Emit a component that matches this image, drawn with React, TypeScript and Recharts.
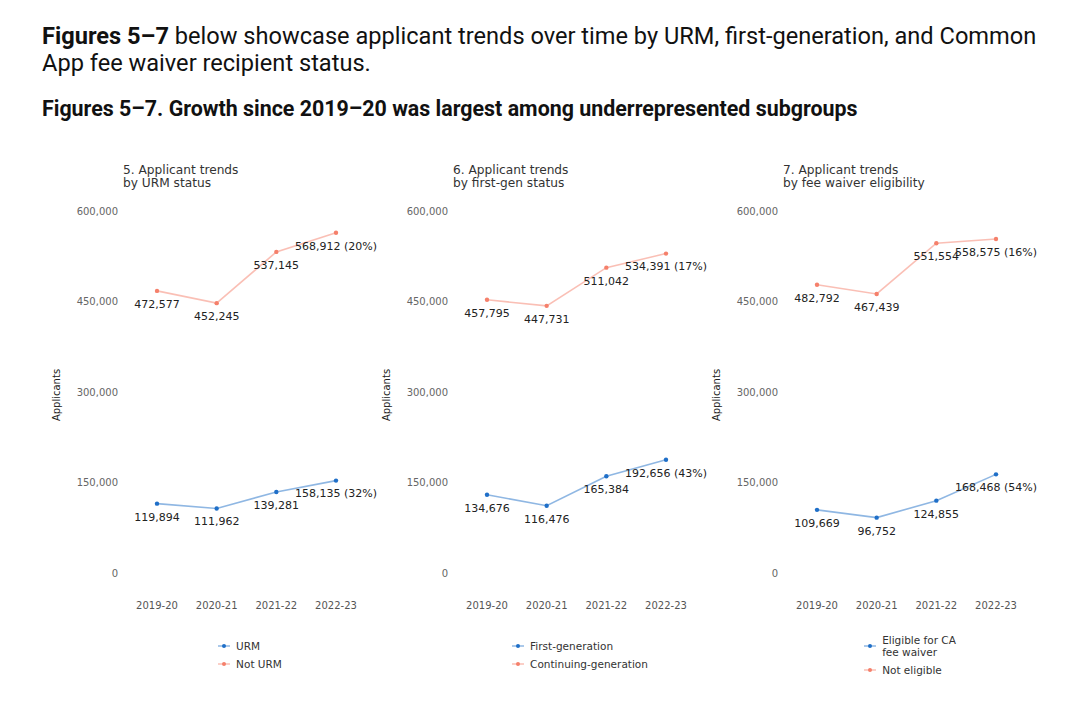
import { LineChart, Line, XAxis, YAxis } from "recharts";

const years = ["2019-20", "2020-21", "2021-22", "2022-23"];
const yTicks = [0, 150000, 300000, 450000, 600000];

const urm = [119894, 111962, 139281, 158135];
const notUrm = [472577, 452245, 537145, 568912];
const firstGen = [134676, 116476, 165384, 192656];
const continuingGen = [457795, 447731, 511042, 534391];
const feeWaiver = [109669, 96752, 124855, 168468];
const notEligible = [482792, 467439, 551554, 558575];

const titles = [
  ["5. Applicant trends", "by URM status"],
  ["6. Applicant trends", "by first-gen status"],
  ["7. Applicant trends", "by fee waiver eligibility"]
];
const lowNames = [["URM"], ["First-generation"], ["Eligible for CA", "fee waiver"]];
const highNames = [["Not URM"], ["Continuing-generation"], ["Not eligible"]];
const lowGrowth = ["32%", "43%", "54%"];
const highGrowth = ["20%", "17%", "16%"];

const BLUE = "#1f6fc8";
const SALMON = "#f5806b";
const CHART_FONT = "'DejaVu Sans', sans-serif";

const panels = [
  { low: urm, high: notUrm },
  { low: firstGen, high: continuingGen },
  { low: feeWaiver, high: notEligible }
];

const fmt = (v: number) => v.toLocaleString("en-US");

function makeLabel(growth: string) {
  return (props: any) => {
    const { x, y, value, index } = props;
    const text = index === years.length - 1 ? `${fmt(value)} (${growth})` : fmt(value);
    return (
      <text
        x={x}
        y={y + 13}
        dy="0.355em"
        textAnchor="middle"
        fontSize={11}
        fill="#222"
        fontFamily={CHART_FONT}
      >
        {text}
      </text>
    );
  };
}

const YTick = (props: any) => (
  <text
    x={props.x - 3}
    y={props.y - 3}
    dy="0.355em"
    textAnchor="end"
    fontSize={10}
    fill="#666"
    fontFamily={CHART_FONT}
  >
    {fmt(props.payload.value)}
  </text>
);

const XTick = (props: any) => (
  <text
    x={props.x}
    y={props.y + 29}
    dy="0.355em"
    textAnchor="middle"
    fontSize={10}
    fill="#555"
    fontFamily={CHART_FONT}
  >
    {props.payload.value}
  </text>
);

const AxisLabel = (props: any) => {
  const vb = props.viewBox;
  const x = vb.x + 16;
  const y = vb.y + vb.height / 2;
  return (
    <text
      x={x}
      y={y}
      dy="0.355em"
      textAnchor="middle"
      transform={`rotate(-90, ${x}, ${y})`}
      fontSize={10}
      fill="#222"
      fontFamily={CHART_FONT}
    >
      Applicants
    </text>
  );
};

function LegendRow({ color, lines }: { color: string; lines: string[] }) {
  return (
    <div style={{ display: "flex", alignItems: "center" }}>
      <svg width={18} height={8}>
        <line x1={0} y1={4} x2={12} y2={4} stroke={color} strokeOpacity={0.5} strokeWidth={1.5} />
        <circle cx={6} cy={4} r={2} fill={color} />
      </svg>
      <div style={{ lineHeight: "12px" }}>
        {lines.map((l) => (
          <div key={l}>{l}</div>
        ))}
      </div>
    </div>
  );
}

function Panel({ k }: { k: number }) {
  const p = panels[k];
  const data = years.map((year, i) => ({ year, low: p.low[i], high: p.high[i] }));
  const left = 40 + 330 * k;
  return (
    <>
      <div
        style={{
          position: "absolute",
          left: left + 83,
          top: 164,
          fontFamily: CHART_FONT,
          fontSize: 12.2,
          lineHeight: "13px",
          color: "#333"
        }}
      >
        <div>{titles[k][0]}</div>
        <div>{titles[k][1]}</div>
      </div>
      <div style={{ position: "absolute", left, top: 150 }}>
        <LineChart width={340} height={470} data={data} margin={{ top: 64, right: 10, bottom: 4, left: 0 }}>
          <XAxis
            dataKey="year"
            axisLine={false}
            tickLine={false}
            tickSize={0}
            tickMargin={0}
            height={40}
            padding={{ left: 36, right: 34 }}
            tick={<XTick />}
            interval={0}
          />
          <YAxis
            width={81}
            domain={[0, 600000]}
            ticks={yTicks}
            axisLine={false}
            tickLine={false}
            tickSize={0}
            tickMargin={0}
            tick={<YTick />}
            label={<AxisLabel />}
          />
          <Line
            dataKey="high"
            stroke={SALMON}
            strokeOpacity={0.5}
            strokeWidth={1.6}
            dot={{ r: 2.2, fill: SALMON, stroke: "none", fillOpacity: 1 }}
            label={makeLabel(highGrowth[k])}
            isAnimationActive={false}
          />
          <Line
            dataKey="low"
            stroke={BLUE}
            strokeOpacity={0.5}
            strokeWidth={1.6}
            dot={{ r: 2.2, fill: BLUE, stroke: "none", fillOpacity: 1 }}
            label={makeLabel(lowGrowth[k])}
            isAnimationActive={false}
          />
        </LineChart>
      </div>
      <div
        style={{
          position: "absolute",
          left: left + 60,
          width: 300,
          top: 625,
          height: 60,
          display: "flex",
          alignItems: "center",
          justifyContent: "center",
          fontFamily: CHART_FONT,
          fontSize: 10.5,
          color: "#333"
        }}
      >
        <div style={{ display: "flex", flexDirection: "column", gap: 6 }}>
          <LegendRow color={BLUE} lines={lowNames[k]} />
          <LegendRow color={SALMON} lines={highNames[k]} />
        </div>
      </div>
    </>
  );
}

export default function App() {
  return (
    <div
      style={{
        position: "absolute",
        left: 0,
        top: 0,
        width: 1080,
        height: 701,
        background: "#fff",
        overflow: "hidden"
      }}
    >
      <div
        style={{
          position: "absolute",
          left: 42,
          top: 23,
          width: 1010,
          fontFamily: "Roboto, sans-serif",
          fontSize: 23.6,
          lineHeight: "27px",
          color: "#111"
        }}
      >
        <b>Figures 5–7</b> below showcase applicant trends over time by URM, first-generation, and Common App fee
        waiver recipient status.
      </div>
      <div
        style={{
          position: "absolute",
          left: 42,
          top: 96,
          fontFamily: "Roboto, sans-serif",
          fontSize: 21.4,
          fontWeight: 700,
          color: "#111"
        }}
      >
        Figures 5–7. Growth since 2019–20 was largest among underrepresented subgroups
      </div>
      {[0, 1, 2].map((k) => (
        <Panel key={k} k={k} />
      ))}
    </div>
  );
}
